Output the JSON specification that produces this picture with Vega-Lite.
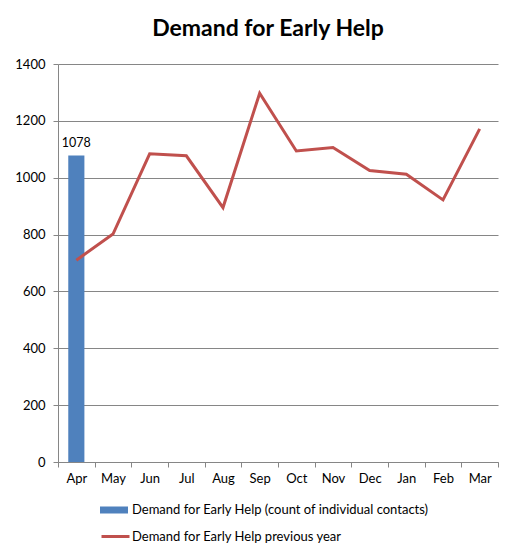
{
  "$schema": "https://vega.github.io/schema/vega-lite/v6.json",
  "width": 440,
  "height": 398,
  "autosize": {"type": "none"},
  "padding": {"left": 58, "top": 64, "right": 18, "bottom": 91},
  "background": "white",
  "title": {
    "text": "Demand for Early Help",
    "fontSize": 23,
    "fontWeight": "bold",
    "font": "Lato",
    "color": "#000000",
    "anchor": "middle",
    "dx": -10,
    "dy": 25,
    "offset": 24,
    "baseline": "alphabetic"
  },
  "config": {
    "view": {"stroke": null},
    "font": "Lato"
  },
  "data": {
    "values": [
      {"month": "Apr", "series": "Demand for Early Help (count of individual contacts)", "value": 1078},
      {"month": "Apr", "series": "Demand for Early Help previous year", "value": 710},
      {"month": "May", "series": "Demand for Early Help previous year", "value": 802},
      {"month": "Jun", "series": "Demand for Early Help previous year", "value": 1084},
      {"month": "Jul", "series": "Demand for Early Help previous year", "value": 1077},
      {"month": "Aug", "series": "Demand for Early Help previous year", "value": 895},
      {"month": "Sep", "series": "Demand for Early Help previous year", "value": 1297},
      {"month": "Oct", "series": "Demand for Early Help previous year", "value": 1094},
      {"month": "Nov", "series": "Demand for Early Help previous year", "value": 1106},
      {"month": "Dec", "series": "Demand for Early Help previous year", "value": 1025},
      {"month": "Jan", "series": "Demand for Early Help previous year", "value": 1012},
      {"month": "Feb", "series": "Demand for Early Help previous year", "value": 922},
      {"month": "Mar", "series": "Demand for Early Help previous year", "value": 1172}
    ]
  },
  "encoding": {
    "x": {
      "field": "month",
      "type": "nominal",
      "sort": ["Apr", "May", "Jun", "Jul", "Aug", "Sep", "Oct", "Nov", "Dec", "Jan", "Feb", "Mar"],
      "scale": {"type": "band", "paddingInner": 0, "paddingOuter": 0},
      "axis": {
        "title": null,
        "labelAngle": 0,
        "tickBand": "extent",
        "domainColor": "#868686",
        "tickColor": "#868686",
        "tickSize": 5,
        "labelFontSize": 13,
        "labelColor": "#000000",
        "labelPadding": 5,
        "grid": false
      }
    },
    "y": {
      "field": "value",
      "type": "quantitative",
      "scale": {"domain": [0, 1400], "nice": false},
      "axis": {
        "title": null,
        "format": "d",
        "values": [0, 200, 400, 600, 800, 1000, 1200, 1400],
        "grid": true,
        "gridColor": "#868686",
        "domainColor": "#868686",
        "tickColor": "#868686",
        "tickSize": 5,
        "labelPadding": 8,
        "labelFontSize": 13,
        "labelColor": "#000000"
      }
    }
  },
  "layer": [
    {
      "transform": [{"filter": "datum.series === 'Demand for Early Help (count of individual contacts)'"}],
      "mark": {"type": "bar", "width": {"band": 0.44}},
      "encoding": {
        "fill": {
          "field": "series",
          "type": "nominal",
          "scale": {"range": ["#4F81BD"]},
          "legend": {
            "title": null,
            "orient": "none",
            "legendX": 42,
            "legendY": 432,
            "symbolType": "M-1,-0.25H1V0.25H-1Z",
            "symbolSize": 784,
            "symbolStrokeWidth": 0,
            "labelFontSize": 13,
            "labelColor": "#000000",
            "labelOffset": 4,
            "labelLimit": 400
          }
        }
      }
    },
    {
      "transform": [{"filter": "datum.series === 'Demand for Early Help (count of individual contacts)'"}],
      "mark": {"type": "text", "baseline": "alphabetic", "dy": -9, "fontSize": 12.5, "color": "#000000"},
      "encoding": {
        "text": {"field": "value", "type": "quantitative"}
      }
    },
    {
      "transform": [{"filter": "datum.series === 'Demand for Early Help previous year'"}],
      "mark": {"type": "line", "strokeWidth": 3},
      "encoding": {
        "stroke": {
          "field": "series",
          "type": "nominal",
          "scale": {"range": ["#C0504D"]},
          "legend": {
            "title": null,
            "orient": "none",
            "legendX": 42,
            "legendY": 457,
            "symbolType": "stroke",
            "symbolSize": 784,
            "symbolStrokeWidth": 3,
            "labelFontSize": 13,
            "labelColor": "#000000",
            "labelOffset": 1,
            "labelLimit": 400
          }
        }
      }
    }
  ]
}
